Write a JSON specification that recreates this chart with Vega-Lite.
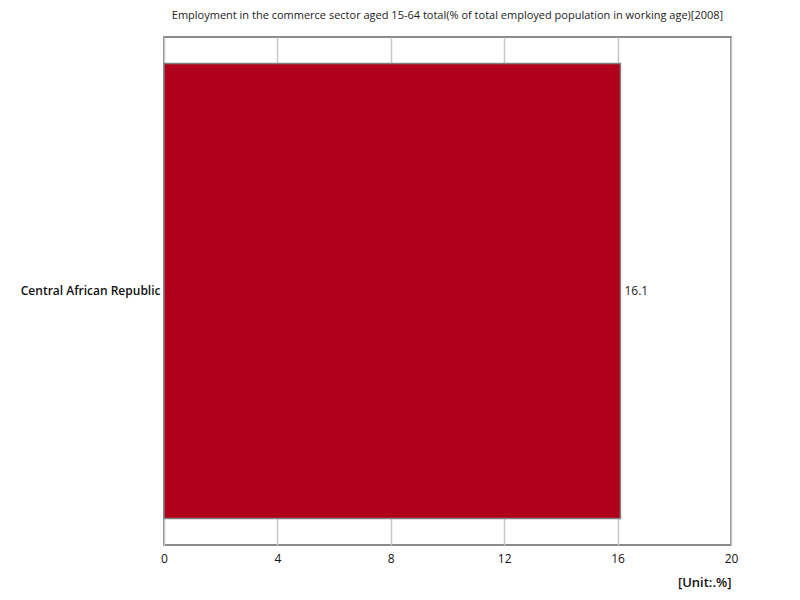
{
  "$schema": "https://vega.github.io/schema/vega-lite/v6.json",
  "autosize": {"type": "none"},
  "width": 567,
  "height": 508,
  "padding": {"left": 164, "top": 37, "right": 69, "bottom": 55},
  "background": "white",
  "config": {
    "font": "Open Sans",
    "view": {"stroke": "#666666", "strokeWidth": 1.5}
  },
  "title": {
    "text": "Employment in the commerce sector aged 15-64 total(% of total employed population in working age)[2008]",
    "fontSize": 11,
    "fontWeight": "normal",
    "color": "#222222",
    "anchor": "middle",
    "offset": 16
  },
  "data": {
    "values": [
      {"country": "Central African Republic", "value": 16.1}
    ]
  },
  "layer": [
    {
      "mark": {"type": "bar", "color": "#b1001c", "stroke": "#808080", "strokeWidth": 1.5},
      "encoding": {
        "y": {
          "field": "country",
          "type": "nominal",
          "title": null,
          "scale": {"paddingInner": 0, "paddingOuter": 0.058},
          "axis": {"domain": false, "ticks": false, "labelFontSize": 12, "labelFontWeight": 600, "labelColor": "#111111", "labelPadding": 4, "labelLimit": 300}
        },
        "x": {
          "field": "value",
          "type": "quantitative",
          "scale": {"domain": [0, 20]},
          "title": "[Unit:.%]",
          "axis": {
            "values": [0, 4, 8, 12, 16, 20],
            "domain": false,
            "ticks": false,
            "grid": true,
            "gridColor": "#c8c8c8",
            "gridWidth": 1.5,
            "labelFlush": false,
            "labelFontSize": 12,
            "labelColor": "#111111",
            "labelPadding": 8,
            "titleAnchor": "end",
            "titleFontSize": 13,
            "titleFontWeight": 600,
            "titleColor": "#111111",
            "titlePadding": 12
          }
        }
      }
    },
    {
      "mark": {"type": "text", "align": "left", "dx": 4, "fontSize": 12, "color": "#222222"},
      "encoding": {
        "y": {"field": "country", "type": "nominal"},
        "x": {"field": "value", "type": "quantitative"},
        "text": {"field": "value", "type": "quantitative", "format": ".1f"}
      }
    }
  ]
}
